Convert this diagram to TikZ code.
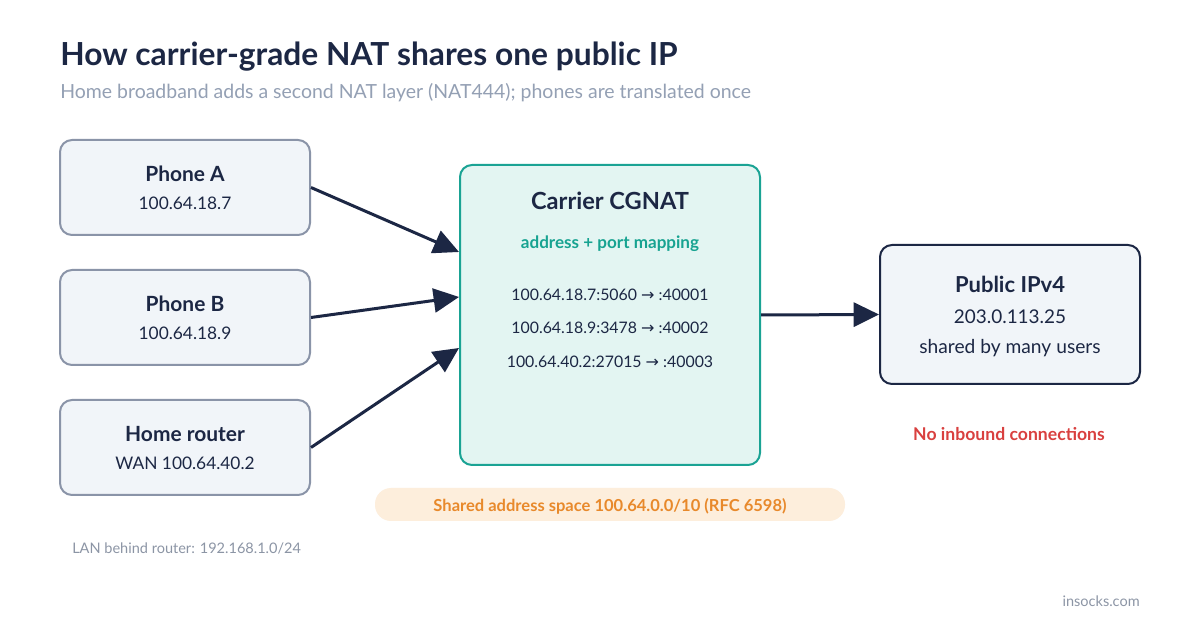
\documentclass[tikz,border=0pt]{standalone}
\usepackage{fontspec}
\setmainfont{Lato}
\newfontfamily\symfont{DejaVu Sans}
\usetikzlibrary{arrows.meta,calc}
\definecolor{navy}{HTML}{1C2744}
\definecolor{subgray}{HTML}{94A0B4}
\definecolor{boxfill}{HTML}{F1F5F9}
\definecolor{boxline}{HTML}{8A94A8}
\definecolor{cgfill}{HTML}{E3F5F2}
\definecolor{cgline}{HTML}{1AA394}
\definecolor{tealtxt}{HTML}{17A391}
\definecolor{redtxt}{HTML}{D9403F}
\definecolor{pillfill}{HTML}{FDEEDC}
\definecolor{orangetxt}{HTML}{E8892B}
\definecolor{footgray}{HTML}{8C95A5}
\tikzset{
  devbox/.style={draw=boxline, fill=boxfill, line width=1.5pt, rounded corners=9pt,
    minimum width=187.5pt, minimum height=71.25pt, inner sep=0pt},
  pubbox/.style={draw=navy, fill=boxfill, line width=1.5pt, rounded corners=9pt,
    minimum width=195pt, minimum height=104.25pt, inner sep=0pt},
  cgbox/.style={draw=cgline, fill=cgfill, line width=1.5pt, rounded corners=9pt,
    minimum width=225pt, minimum height=225pt, inner sep=0pt},
  pill/.style={fill=pillfill, rounded corners=12pt, minimum width=352.5pt,
    minimum height=24.75pt, inner sep=0pt},
  ttl/.style={font=\fontsize{15.7}{18}\selectfont\bfseries, text=navy},
  sub/.style={font=\fontsize{13}{15}\selectfont, text=navy},
  mapl/.style={text=navy, font=\fontsize{11.9}{14}\selectfont},
  conn/.style={draw=navy, line width=2.25pt, -{Triangle[length=19pt,width=18pt]}},
}
\newcommand{\rarr}{{\symfont\fontsize{12}{14}\selectfont →}}
\begin{document}
\begin{tikzpicture}[x=0.75pt,y=-0.75pt]
\useasboundingbox (0,0) rectangle (1200,630);
\fill[white] (0,0) rectangle (1200,630);
% title
\node[anchor=base west, inner sep=0pt, text=navy, font=\fontsize{23.8}{28}\selectfont\bfseries] (title) at (60,66) {How carrier-grade NAT shares one public IP};
\node[anchor=base west, inner sep=0pt, text=subgray, font=\fontsize{14.6}{17}\selectfont] (subtitle) at (60,99) {Home broadband adds a second NAT layer (NAT444); phones are translated once};
% device boxes
\node[devbox] (pa) at (185,187.5) {};
\node[ttl] (paT) at (185,174) {Phone A};
\node[sub] (paS) at (185,203) {100.64.18.7};
\node[devbox] (pb) at (185,317.5) {};
\node[ttl] (pbT) at (185,304) {Phone B};
\node[sub] (pbS) at (185,333) {100.64.18.9};
\node[devbox] (hr) at (185,447.5) {};
\node[ttl] (hrT) at (185,434) {Home router};
\node[sub] (hrS) at (185,463) {WAN 100.64.40.2};
% CGNAT
\node[cgbox] (cg) at (610,315) {};
\node[text=navy, font=\fontsize{17.7}{21}\selectfont\bfseries] (cgT) at (610,201) {Carrier CGNAT};
\node[text=tealtxt, font=\fontsize{12.8}{15}\selectfont\bfseries] (cgS) at (610,244) {address + port mapping};
\node[mapl] (m1) at (610,295) {100.64.18.7:5060 \rarr{} :40001};
\node[mapl] (m2) at (610,328) {100.64.18.9:3478 \rarr{} :40002};
\node[mapl] (m3) at (610,362) {100.64.40.2:27015 \rarr{} :40003};
% public
\node[pubbox] (pub) at (1010,314.5) {};
\node[text=navy, font=\fontsize{16.5}{19}\selectfont\bfseries] (pubT) at (1010,284) {Public IPv4};
\node[text=navy, font=\fontsize{14.2}{17}\selectfont] (pubA) at (1010,317) {203.0.113.25};
\node[text=navy, font=\fontsize{14.4}{17}\selectfont] (pubS) at (1010,348) {shared by many users};
\node[text=redtxt, font=\fontsize{13.2}{15}\selectfont\bfseries] (noin) at (1009,434) {No inbound connections};
% pill
\node[pill] (sp) at (610,504.5) {};
\node[text=orangetxt, font=\fontsize{12.4}{15}\selectfont\bfseries] (spT) at (610,506) {Shared address space 100.64.0.0/10 (RFC 6598)};
% footnotes
\node[anchor=base west, inner sep=0pt, text=footgray, font=\fontsize{10.9}{13}\selectfont] (lan) at (72,554) {LAN behind router: 192.168.1.0/24};
\node[anchor=base east, inner sep=0pt, text=footgray, font=\fontsize{10.9}{13}\selectfont] (brand) at (1140,607) {insocks.com};
% connectors
\draw[conn] (pa.east) -- ($(cg.west)+(0,-63)$);
\draw[conn] (pb.east) -- ($(cg.west)+(0,-18)$);
\draw[conn] (hr.east) -- ($(cg.west)+(0,33)$);
\draw[conn] (cg.east) -- (pub.west);
\end{tikzpicture}
\end{document}
